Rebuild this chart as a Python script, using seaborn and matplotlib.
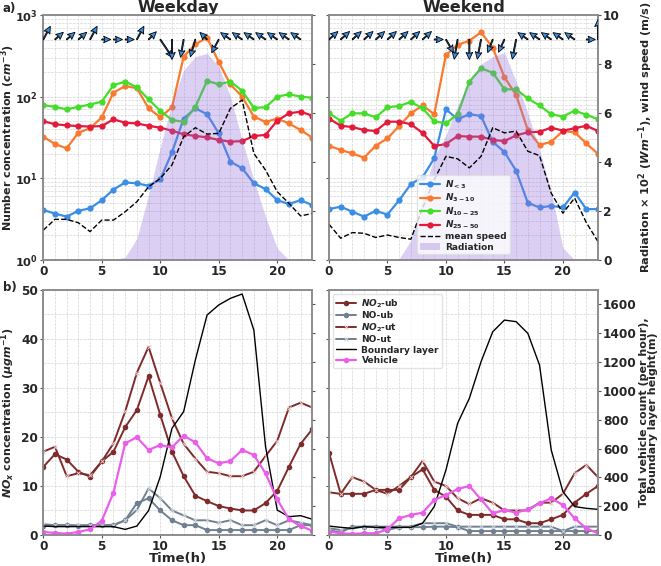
import numpy as np
import seaborn as sns
import matplotlib.pyplot as plt
from matplotlib.ticker import MultipleLocator

hours = np.arange(24)

# a) particle number concentration (cm-3)
wd_n_lt3 = [4.1, 3.7, 3.4, 4.0, 4.3, 5.4, 7.3, 8.9, 8.7, 8.1, 9.7, 20.8,
            54, 72, 61, 35.6, 16, 13.3, 8.7, 7.4, 5.4, 4.85, 5.4, 4.7]
wd_n_3_10 = [32.4, 26.3, 23.3, 36.3, 41, 56, 112, 135, 127, 72, 56, 74,
             309, 438, 528, 266, 141, 100, 57, 49, 54, 47, 39, 31.5]
wd_n_10_25 = [79, 75, 70, 75, 80, 87, 138, 153, 130, 93, 67, 52,
              49, 75, 156, 142, 153, 118, 73, 74, 100, 107, 100, 97]
wd_n_25_50 = [50, 46, 44.5, 43.7, 43, 43.7, 52.8, 48, 47, 44, 41.7, 38.3,
              34.6, 33, 31.8, 29.5, 28.1, 28.6, 33, 34, 50.8, 62.5, 65.5, 58.5]
we_n_lt3 = [4.2, 4.5, 3.9, 3.4, 4.0, 3.6, 5.4, 8.5, 10.3, 17.6, 70, 53,
            61, 58, 28, 21, 12.4, 5.0, 4.4, 4.6, 4.4, 6.7, 4.2, 4.2]
we_n_3_10 = [25.1, 22.2, 20.2, 17.9, 25.1, 30.9, 43.7, 62.5, 78, 61, 324, 430,
             485, 614, 398, 173, 105, 39, 25.6, 28, 38, 36.6, 26.8, 19.9]
we_n_10_25 = [62.5, 50.8, 62.5, 62.5, 56, 74, 77, 86, 72, 50, 47, 61,
              153, 222, 197, 123, 123, 95, 78, 61, 57, 67.5, 60, 53]
we_n_25_50 = [54, 44, 42.5, 39, 38, 49.4, 49.4, 46, 36, 24.9, 26.3, 33,
              32.4, 32.4, 29.5, 28.6, 33.6, 36.6, 37.2, 41.7, 38.4, 41, 44, 38]

# mean wind speed (m/s) and radiation (x100 W m-1)
wd_speed = [1.22, 1.66, 1.66, 1.52, 1.16, 1.63, 1.63, 1.97, 2.38, 2.99, 3.33, 3.88,
            5.03, 5.40, 5.14, 5.17, 6.19, 6.53, 4.35, 3.67, 2.79, 2.31, 1.80, 1.90]
we_speed = [1.46, 0.89, 1.12, 1.09, 0.92, 1.02, 0.92, 0.85, 2.12, 3.28, 4.23, 4.13,
            3.76, 4.23, 5.40, 5.19, 5.26, 4.44, 4.26, 2.73, 1.91, 2.53, 1.53, 0.75]
wd_rad = [0, 0, 0, 0, 0, 0, 0, 0.12, 0.88, 2.65, 4.6, 6.4,
          7.75, 8.3, 8.44, 7.9, 6.67, 4.9, 3.27, 1.77, 0.48, 0, 0, 0]
we_rad = [0, 0, 0, 0, 0, 0, 0.05, 0.8, 2.6, 4.2, 5.1, 6.3,
          7.3, 8.0, 8.3, 8.47, 7.3, 6.0, 4.5, 2.8, 0.5, 0, 0, 0]

# wind vector: direction blown towards (deg from north) and resultant speed
wd_wdir = [28, 49, 49, 49, 28, 90, 90, 90, 28, 45, 146, 180,
           190, 196, 315, 208, 305, 305, 305, 305, 305, 305, 305, np.nan]
wd_wvec = [1.5, 1.1, 1.1, 1.1, 1.5, 0.9, 0.9, 0.9, 1.5, 1.1, 2.2, 2.0,
           1.8, 1.8, 1.0, 1.5, 1.2, 1.2, 1.2, 1.2, 1.2, 1.2, 1.2, np.nan]
we_wdir = [48, 48, 48, 48, 48, 48, 48, 48, 48, 90, 150, 190,
           180, 191, 201, 205, 191, 305, 305, 305, 305, 305, 90, 0]
we_wvec = [1.2, 1.2, 1.2, 1.2, 1.2, 1.2, 1.2, 1.2, 1.2, 0.9, 1.5, 2.0,
           2.0, 2.0, 1.4, 1.4, 2.0, 1.2, 1.2, 1.2, 1.2, 1.2, 0.9, 2.0]

# b) NOx (ug m-1), vehicles (per hour), boundary layer height (m)
wd_no2_ub = [13.9, 16.5, 15.4, 12.9, 11.9, 15.0, 17.0, 22.0, 25.5, 32.4, 24.5, 17.0,
             12.0, 8.0, 6.9, 5.9, 5.4, 5.0, 5.0, 6.5, 9.0, 13.9, 18.6, 21.6]
wd_no_ub = [1.8, 2.0, 2.0, 1.8, 2.0, 2.0, 2.0, 3.0, 6.5, 7.5, 5.0, 3.0,
            2.0, 2.0, 1.0, 1.0, 1.0, 1.0, 1.0, 1.0, 1.0, 1.0, 2.0, 2.0]
wd_no2_ut = [17.0, 18.0, 12.0, 12.6, 12.2, 15.0, 18.7, 25.2, 33.1, 38.4, 31.0, 23.8,
             18.6, 15.6, 12.9, 12.6, 12.0, 12.0, 12.9, 16.1, 19.2, 26.0, 27.0, 26.0]
wd_no_ut = [2.2, 2.0, 2.0, 2.0, 2.0, 2.0, 2.0, 3.0, 5.1, 9.5, 7.5, 5.0,
            4.0, 3.0, 3.0, 2.5, 3.0, 2.0, 2.0, 3.0, 2.0, 3.0, 2.5, 2.0]
wd_blh = [62, 58, 58, 58, 58, 58, 58, 39, 62, 169, 405, 740,
          856, 1214, 1526, 1596, 1642, 1672, 1422, 613, 173, 127, 134, 109]
wd_vehicle = [21, 14, 9, 21, 39, 99, 294, 636, 678, 590, 624, 608,
              689, 643, 532, 497, 513, 590, 555, 428, 247, 109, 62, 30]
we_no2_ub = [16.8, 8.4, 8.4, 8.4, 9.2, 9.2, 9.2, 11.8, 13.4, 9.2, 7.8, 5.0,
             4.1, 4.1, 4.1, 3.2, 3.2, 2.4, 2.4, 3.2, 4.1, 6.6, 8.4, 10.0]
we_no_ub = [1.0, 0.5, 1.7, 1.7, 1.7, 1.0, 1.6, 1.6, 1.6, 1.7, 1.7, 1.6,
            0.8, 0.8, 0.8, 0.8, 0.8, 0.8, 0.8, 0.8, 0.8, 0.8, 0.8, 0.8]
we_no2_ut = [8.7, 8.4, 11.8, 10.9, 9.2, 8.4, 10.0, 11.8, 15.1, 10.9, 10.0, 7.5,
             6.3, 7.5, 6.6, 5.0, 5.0, 5.0, 6.6, 6.6, 8.4, 12.6, 14.3, 11.8]
we_no_ut = [1.4, 1.0, 1.4, 1.7, 1.7, 1.7, 1.7, 1.7, 2.4, 2.4, 2.4, 1.7,
            1.7, 1.7, 1.7, 1.7, 1.7, 1.7, 1.7, 1.7, 0.8, 1.7, 1.7, 1.7]
we_blh = [62, 53, 46, 58, 53, 53, 53, 53, 81, 197, 451, 775,
          948, 1202, 1410, 1491, 1480, 1399, 1179, 590, 301, 197, 185, 178]
we_vehicle = [23, 12, 7, 12, 12, 39, 116, 139, 155, 243, 277, 319,
              340, 247, 150, 173, 155, 178, 220, 254, 208, 116, 46, 12]

n_labels = [r'$N_{<3}$', r'$N_{3-10}$', r'$N_{10-25}$', r'$N_{25-50}$']
n_colors = ['#3a8ee6', '#f97a2f', '#44dd2a', '#e31a3c']
no2_col = '#7f2b2b'
no_col = '#708090'

sns.set_style('ticks')
plt.rcParams['font.family'] = ['DejaVu Sans']
plt.rcParams['font.weight'] = 'bold'
plt.rcParams['axes.labelweight'] = 'bold'
plt.rcParams['axes.titleweight'] = 'bold'
plt.rcParams['mathtext.fontset'] = 'custom'
plt.rcParams['mathtext.rm'] = 'DejaVu Sans:bold'
plt.rcParams['mathtext.bf'] = 'DejaVu Sans:bold'
plt.rcParams['mathtext.it'] = 'DejaVu Sans:bold:italic'
plt.rcParams['mathtext.default'] = 'it'


def style_axes(ax):
    for sp in ax.spines.values():
        sp.set_color('#8a8a8a')
        sp.set_linewidth(1.1)
    ax.tick_params(which='major', labelsize=8.7, length=2.5, pad=1.2, color='#555555')
    ax.tick_params(which='minor', length=0)


def top_panel(ax, tw, series, speed, rad, wdir, wvec):
    ax.set_yscale('log')
    for vals, col, lab in zip(series, n_colors, n_labels):
        sns.lineplot(x=hours, y=vals, ax=ax, color=col, marker='o', markersize=4.5,
                     markeredgewidth=0, linewidth=1.6, label=lab)
    tw.fill_between(hours, 0, rad, color='mediumpurple', alpha=0.33, lw=0, label='Radiation')
    sns.lineplot(x=hours, y=speed, ax=tw, color='k', linestyle='--', linewidth=1,
                 label='mean speed')
    d = np.deg2rad(np.asarray(wdir, float))
    m = np.asarray(wvec, float)
    u = np.ma.masked_invalid(m * np.sin(d))
    v = np.ma.masked_invalid(m * np.cos(d))
    tw.quiver(hours, np.full(24, 9.0), u, v, angles='uv', scale_units='dots', scale=0.1,
              units='dots', width=1.1, headwidth=6, headlength=6.5, headaxislength=5.5,
              pivot='tail', color='#3b8fe2', edgecolor='k', linewidth=0.6, zorder=5)
    ax.set_ylim(1, 1000)
    tw.set_ylim(0, 10)
    ax.grid(which='both', ls='--', lw=0.5, color='#d4d4d4')


def bottom_panel(ax, tw, no2_ub, no_ub, no2_ut, no_ut, blh, veh):
    sns.lineplot(x=hours, y=no2_ub, ax=ax, color=no2_col, marker='o', markersize=4,
                 markeredgewidth=0, linewidth=1.4, label=r'$NO_2$-ub')
    sns.lineplot(x=hours, y=no_ub, ax=ax, color=no_col, marker='o', markersize=4,
                 markeredgewidth=0, linewidth=1.4, label='NO-ub')
    sns.lineplot(x=hours, y=no2_ut, ax=ax, color=no2_col, marker='x', markersize=3.5,
                 markeredgecolor='#e8c8c8', markeredgewidth=0.7, linewidth=1.4,
                 label=r'$NO_2$-ut')
    sns.lineplot(x=hours, y=no_ut, ax=ax, color=no_col, marker='x', markersize=3.5,
                 markeredgecolor='#d0d8de', markeredgewidth=0.7, linewidth=1.4,
                 label='NO-ut')
    sns.lineplot(x=hours, y=blh, ax=tw, color='k', linewidth=1, label='Boundary layer')
    sns.lineplot(x=hours, y=veh, ax=tw, color='#ea5fea', marker='o', markersize=4,
                 markeredgewidth=0, linewidth=1.6, label='Vehicle')
    ax.set_ylim(0, 50)
    tw.set_ylim(0, 1700)
    ax.yaxis.set_major_locator(MultipleLocator(10))
    ax.yaxis.set_minor_locator(MultipleLocator(5))
    tw.yaxis.set_major_locator(MultipleLocator(200))
    ax.grid(which='both', ls='--', lw=0.5, color='#d4d4d4')


fig = plt.figure(figsize=(6.61, 5.66), dpi=100)
ax_a1 = fig.add_axes([0.0655, 0.5406, 0.407, 0.4329])
ax_a2 = fig.add_axes([0.4977, 0.5406, 0.407, 0.4329])
ax_b1 = fig.add_axes([0.0655, 0.0548, 0.407, 0.4329])
ax_b2 = fig.add_axes([0.4977, 0.0548, 0.407, 0.4329])
tw_a1, tw_a2, tw_b1, tw_b2 = [a.twinx() for a in (ax_a1, ax_a2, ax_b1, ax_b2)]

top_panel(ax_a1, tw_a1, [wd_n_lt3, wd_n_3_10, wd_n_10_25, wd_n_25_50],
          wd_speed, wd_rad, wd_wdir, wd_wvec)
top_panel(ax_a2, tw_a2, [we_n_lt3, we_n_3_10, we_n_10_25, we_n_25_50],
          we_speed, we_rad, we_wdir, we_wvec)
bottom_panel(ax_b1, tw_b1, wd_no2_ub, wd_no_ub, wd_no2_ut, wd_no_ut, wd_blh, wd_vehicle)
bottom_panel(ax_b2, tw_b2, we_no2_ub, we_no_ub, we_no2_ut, we_no_ut, we_blh, we_vehicle)

for a in (ax_a1, ax_a2, ax_b1, ax_b2, tw_a1, tw_a2, tw_b1, tw_b2):
    if a.get_legend() is not None:
        a.get_legend().remove()
    a.set_xlim(0, 23)
    a.xaxis.set_major_locator(MultipleLocator(5))
    a.xaxis.set_minor_locator(MultipleLocator(1))
    a.set_xlabel('')
    a.set_ylabel('')
    style_axes(a)

ax_a1.tick_params(axis='y', labelsize=8.2)
for a in (ax_a2, ax_b2):
    a.tick_params(labelleft=False)
for a in (tw_a1, tw_b1):
    a.tick_params(labelright=False)

ax_a1.set_title('Weekday', fontsize=11.5, pad=1)
ax_a2.set_title('Weekend', fontsize=11.5, pad=1)
ax_a1.set_ylabel(r'Number concentration ($cm^{-3}$)', fontsize=8.0)
tw_a2.set_ylabel(r'Radiation $\times$ 10$^2$ ($Wm^{-1}$), wind speed (m/s)', fontsize=8.2)
ax_b1.set_ylabel(r'$NO_x$ concentration ($\mu gm^{-1}$)', fontsize=8.0)
tw_b2.set_ylabel('Total vehicle count (per hour),\nBoundary layer height(m)',
                 fontsize=8.0, linespacing=0.95)
ax_a1.yaxis.set_label_coords(-0.097, 0.5)
ax_b1.yaxis.set_label_coords(-0.097, 0.5)
tw_a2.yaxis.set_label_coords(1.143, 0.5)
tw_b2.yaxis.set_label_coords(1.152, 0.5)
for a in (ax_b1, ax_b2):
    a.set_xlabel('Time(h)', fontsize=9.5)
    a.xaxis.set_label_coords(0.5, -0.07)

h1, l1 = ax_a2.get_legend_handles_labels()
h2, l2 = tw_a2.get_legend_handles_labels()
rad_handle = [h for h, l in zip(h2, l2) if l == 'Radiation']
spd_handle = [h for h, l in zip(h2, l2) if l == 'mean speed']
tw_a2.legend(h1 + spd_handle + rad_handle, l1 + ['mean speed', 'Radiation'],
             loc='lower center', bbox_to_anchor=(0.5, 0.005), fontsize=6.5,
             labelspacing=0.12, borderpad=0.3, handlelength=2.2, handletextpad=0.6,
             framealpha=0.8, edgecolor='#dddddd')

h3, l3 = ax_b2.get_legend_handles_labels()
h4, l4 = tw_b2.get_legend_handles_labels()
tw_b2.legend(h3 + h4, l3 + l4, loc='upper left', bbox_to_anchor=(0.0, 1.0), fontsize=6.5,
             labelspacing=0.15, borderpad=0.3, handlelength=2.2, handletextpad=0.6,
             framealpha=0.8, edgecolor='#dddddd')

fig.text(0.004, 0.997, 'a)', fontsize=8.5, fontweight='bold', va='top')
fig.text(0.004, 0.503, 'b)', fontsize=8.5, fontweight='bold', va='top')

fig.savefig('out.png', dpi=100)
